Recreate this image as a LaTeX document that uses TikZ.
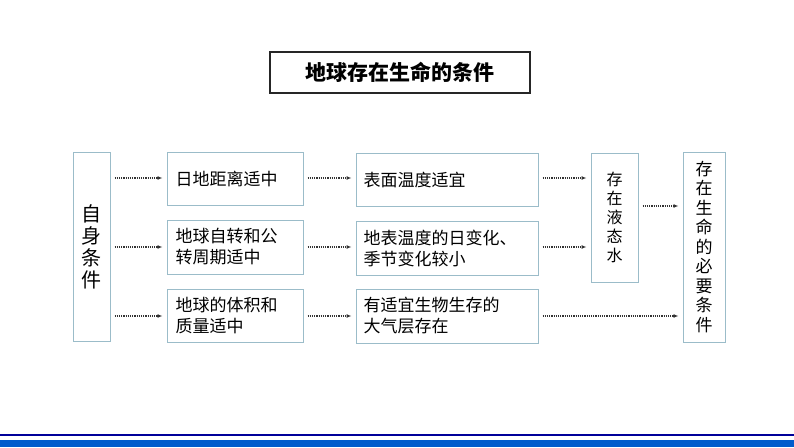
\documentclass[tikz,border=0pt]{standalone}
\usepackage{fontspec}
\setmainfont{Noto Sans CJK SC}
\usetikzlibrary{arrows.meta}
\begin{document}
\begin{tikzpicture}[x=1pt,y=-1pt,
  bx/.style={draw=cyan!35!gray!70,line width=1pt,inner sep=0pt},
  ar/.style={-{Latex[length=5pt,width=4pt]},densely dotted,line width=1.2pt,black!80,shorten >=4pt},
  tx/.style={font=\fontsize{17}{21}\selectfont,align=left,anchor=west}]
\useasboundingbox (0,0) rectangle (794,447);
\fill[white] (0,0) rectangle (794,447);
\node[draw=black!85,line width=1.5pt,minimum width=260pt,minimum height=41pt,font=\bfseries\fontsize{21}{24}\selectfont] (t) at (400,72.5) {地球存在生命的条件};
\node[bx,minimum width=37pt,minimum height=189pt,font=\fontsize{20}{22}\selectfont,align=center] (s) at (91.5,246.5) {自\\身\\条\\件};
\node[bx,minimum width=136pt,minimum height=53pt] (a1) at (235,178.5) {};
\node[bx,minimum width=136pt,minimum height=54pt] (a2) at (235,247) {};
\node[bx,minimum width=136pt,minimum height=53pt] (a3) at (235,315.5) {};
\node[tx] at (172,178.5) {日地距离适中};
\node[tx] at (172,247) {地球自转和公\\转周期适中};
\node[tx] at (172,315.5) {地球的体积和\\质量适中};
\node[bx,minimum width=182pt,minimum height=53pt] (b1) at (447,179.5) {};
\node[bx,minimum width=182pt,minimum height=54pt] (b2) at (447,248) {};
\node[bx,minimum width=182pt,minimum height=54pt] (b3) at (447,316) {};
\node[tx] at (360,179.5) {表面温度适宜};
\node[tx] at (360,248) {地表温度的日变化、\\季节变化较小};
\node[tx] at (360,316) {有适宜生物生存的\\大气层存在};
\node[bx,minimum width=47pt,minimum height=129pt,font=\fontsize{16}{19}\selectfont,align=center] (w) at (614.5,217.5) {存\\在\\液\\态\\水};
\node[bx,minimum width=42pt,minimum height=190pt,font=\fontsize{17}{19.5}\selectfont,align=center] (n) at (704,247) {存\\在\\生\\命\\的\\必\\要\\条\\件};
\foreach \y/\b in {178/a1,247/a2,316/a3} \draw[ar] (s.east|-0,\y) ++(4,0) -- (\b.west|-0,\y);
\foreach \y/\a/\b in {178/a1/b1,247/a2/b2,316/a3/b3} \draw[ar] (\a.east|-0,\y) ++(4,0) -- (\b.west|-0,\y);
\draw[ar] (b1.east|-0,178) ++(4,0) -- (w.west|-0,178);
\draw[ar] (b2.east|-0,247) ++(4,0) -- (w.west|-0,247);
\draw[ar] (b3.east|-0,316) ++(4,0) -- (n.west|-0,316);
\draw[ar] (w.east|-0,206) ++(4,0) -- (n.west|-0,206);
\draw[line width=1.2pt,blue!60!black] (0,435) -- (794,435);
\fill[blue!55!cyan!80!black] (0,440) rectangle (794,447);
\end{tikzpicture}
\end{document}
